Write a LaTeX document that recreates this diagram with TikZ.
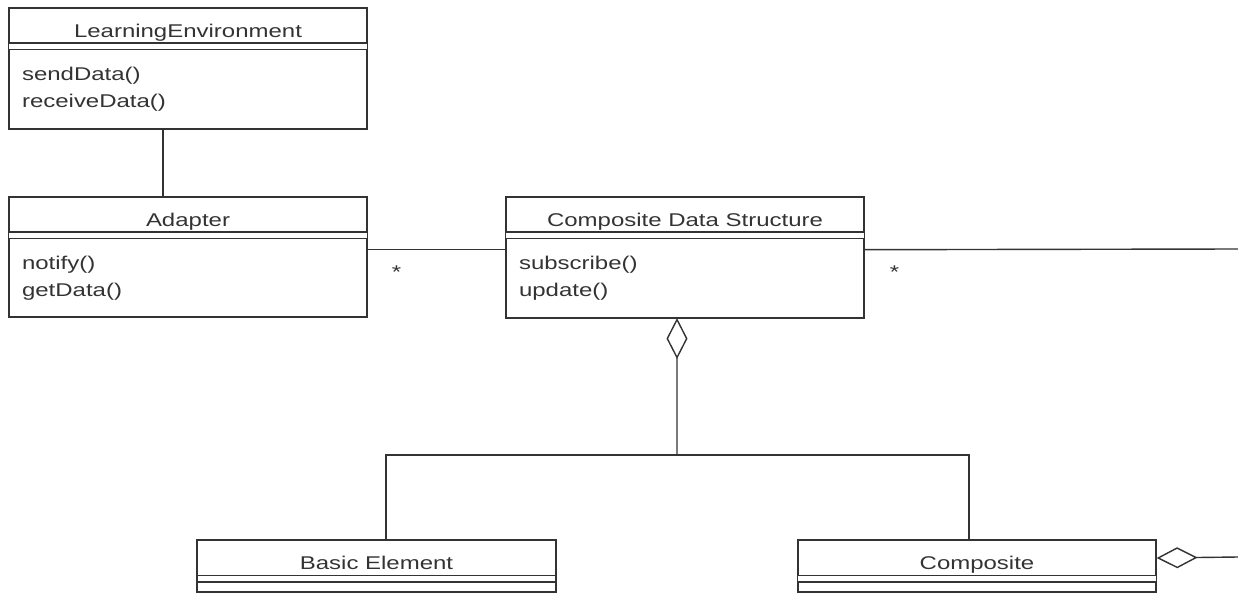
\documentclass[tikz,border=0pt]{standalone}
\usepackage{fontspec}
\setmainfont[FakeStretch=1.3]{Liberation Sans}
\usetikzlibrary{arrows.meta}
\usetikzlibrary{positioning}

\begin{document}
\begin{tikzpicture}[x=0.02cm,y=-0.02cm,line width=0.8pt,color=black!80,node distance=0.1cm,
	every node/.style={font=\fontsize{10.5}{15.3}\selectfont},
	classhead/.style={draw, minimum width=7.16cm, minimum height=0.7cm, inner sep=0pt, text height=13.2pt, text depth=0pt},
	classbody/.style={draw, minimum width=7.16cm, minimum height=#1, inner sep=0pt},
	opslist/.style={align=left, inner sep=0pt, anchor=base west},
	aggr/.style={{Diamond[open,length=0.82cm,width=0.42cm]}-},
	mult/.style={below=0.3cm, inner sep=0pt}]
	\useasboundingbox (0,0) rectangle (1238,592);

	\node[classhead] (le-t) at (188,25.5) {LearningEnvironment};
	\node[classbody=1.58cm, below=of le-t] (le-b) {};
	\node[opslist] (le-o) at ([xshift=0.26cm,yshift=-1.18cm]le-b.north west) {sendData()\\receiveData()};
	\draw (le-t.north west) rectangle (le-b.south east);

	\node[classhead] (ad-t) at (188,214.5) {Adapter};
	\node[classbody=1.56cm, below=of ad-t] (ad-b) {};
	\node[opslist] (ad-o) at ([xshift=0.26cm,yshift=-1.17cm]ad-b.north west) {notify()\\getData()};
	\draw (ad-t.north west) rectangle (ad-b.south east);

	\node[classhead] (cds-t) at (685,214.5) {Composite Data Structure};
	\node[classbody=1.58cm, below=of cds-t] (cds-b) {};
	\node[opslist] (cds-o) at ([xshift=0.26cm,yshift=-1.17cm]cds-b.north west) {subscribe()\\update()};
	\draw (cds-t.north west) rectangle (cds-b.south east);

	\node[classhead] (be-t) at (376.5,558) {Basic Element};
	\node[classbody=0.2cm, below=of be-t] (be-b) {};
	\draw (be-t.north west) rectangle (be-b.south east);

	\node[classhead] (co-t) at (977,558) {Composite};
	\node[classbody=0.2cm, below=of co-t] (co-b) {};
	\draw (co-t.north west) rectangle (co-b.south east);

	\coordinate (joint) at (677,455);
	\coordinate (endA) at (1238,249);
	\coordinate (endB) at (1238,557);

	\draw ([xshift=-0.5cm]le-b.south) -- ([xshift=-0.5cm]ad-t.north);
	\draw ([yshift=-0.24cm]ad-b.north east) -- node[mult,pos=0.21] {*} ([yshift=-0.24cm]cds-b.north west);
	\draw ([yshift=-0.24cm]cds-b.north east) -- node[mult,pos=0.08] {*} (endA);
	\draw[aggr] ([xshift=-0.16cm]cds-b.south) -- (joint);
	\draw ([xshift=0.19cm]be-t.north) |- (joint) -| ([xshift=-0.16cm]co-t.north);
	\draw[aggr] (co-t.east) -- (endB);
\end{tikzpicture}
\end{document}
